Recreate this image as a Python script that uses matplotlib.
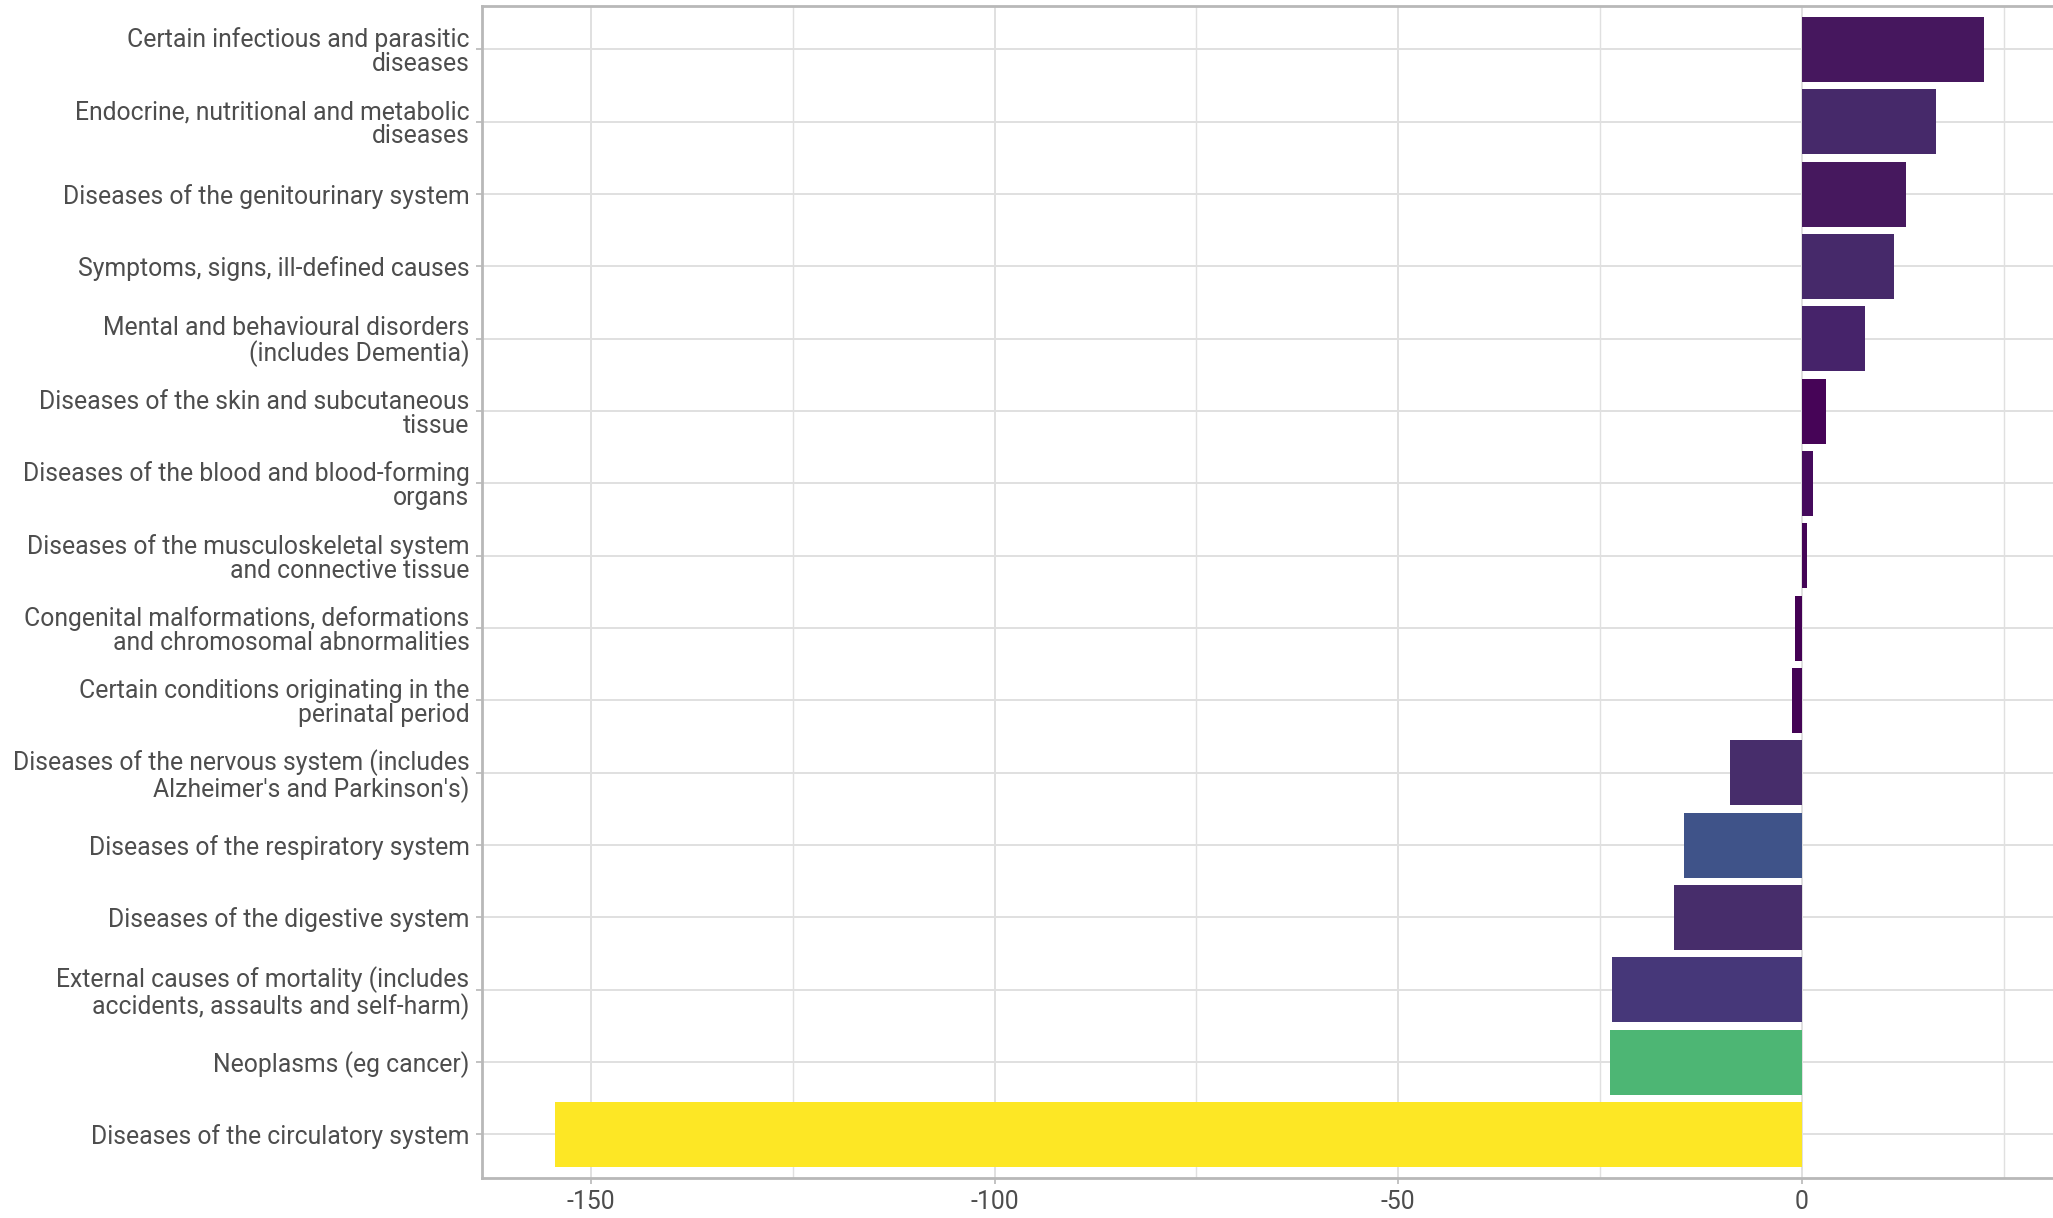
"""Change in deaths by cause, horizontal bar chart."""

import matplotlib.pyplot as plt
import numpy as np

causes = [
    "Certain infectious and parasitic\ndiseases",
    "Endocrine, nutritional and metabolic\ndiseases",
    "Diseases of the genitourinary system",
    "Symptoms, signs, ill-defined causes",
    "Mental and behavioural disorders\n(includes Dementia)",
    "Diseases of the skin and subcutaneous\ntissue",
    "Diseases of the blood and blood-forming\norgans",
    "Diseases of the musculoskeletal system\nand connective tissue",
    "Congenital malformations, deformations\nand chromosomal abnormalities",
    "Certain conditions originating in the\nperinatal period",
    "Diseases of the nervous system (includes\nAlzheimer's and Parkinson's)",
    "Diseases of the respiratory system",
    "Diseases of the digestive system",
    "External causes of mortality (includes\naccidents, assaults and self-harm)",
    "Neoplasms (eg cancer)",
    "Diseases of the circulatory system",
]
change = [22.6, 16.6, 12.9, 11.4, 7.8, 3.0, 1.4, 0.66,
          -0.8, -1.2, -8.9, -14.6, -15.9, -23.5, -23.8, -154.5]
fills = ["#46175E", "#46296A", "#46185E", "#46296A", "#46236A", "#460457",
         "#450A5C", "#440556", "#440154", "#440455", "#472D6B", "#3F5389",
         "#472D6B", "#463779", "#4DB674", "#FDE725"]
xticks = [-150, -100, -50, 0]

plt.rcParams["font.family"] = ["Roboto", "DejaVu Sans"]

fig = plt.figure(figsize=(20.53, 12.18), dpi=100)
ax = fig.add_axes([0.2348, 0.033, 0.7652, 0.962])

y = np.arange(len(causes))
ax.barh(y, change, height=0.9, color=fills, zorder=3)

ax.set_ylim(len(causes) - 0.4, -0.6)
ax.set_xlim(-163.5, 31.1)
ax.set_yticks(y, causes)
ax.set_xticks(xticks, [str(t) for t in xticks])
ax.set_xticks([-125, -75, -25, 25], minor=True)

grid_c = "#E0E0E0"
ax.grid(True, which="major", color=grid_c, linewidth=1.4, zorder=0)
ax.grid(True, which="minor", axis="x", color=grid_c, linewidth=1.0, zorder=0)

for side in ["left", "bottom", "top"]:
    ax.spines[side].set_color("#B8B8B8")
    ax.spines[side].set_linewidth(2.0)
ax.spines["right"].set_visible(False)

ax.tick_params(axis="both", which="major", colors="#B8B8B8", length=4,
               width=1.2, labelsize=17.8, labelcolor="#4D4D4D", pad=5)
ax.tick_params(axis="x", which="minor", length=0)
for lab in ax.get_yticklabels():
    lab.set_linespacing(1.0)

fig.savefig("out.png", dpi=100)
